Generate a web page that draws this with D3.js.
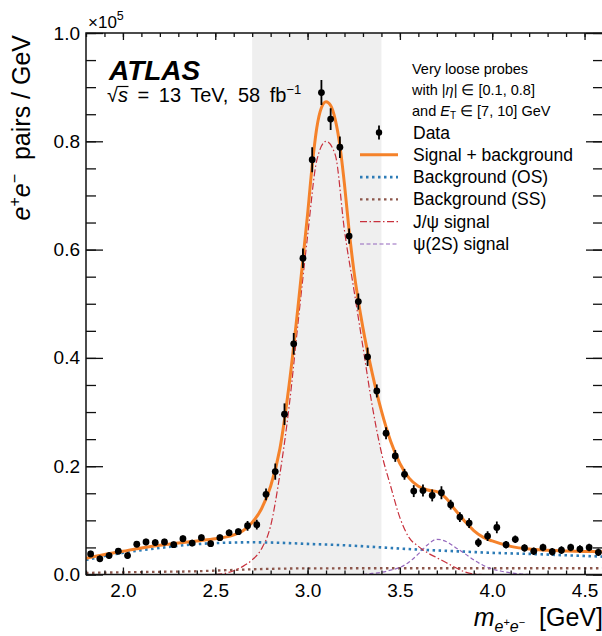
<!DOCTYPE html>
<html>
<head>
<meta charset="utf-8">
<title>ee mass fit, very loose probes</title>
<script src="https://cdn.jsdelivr.net/npm/d3@7"></script>
<style>
  body { margin: 0; background: #fff; }
  svg { font-family: "Liberation Sans", Arial, Helvetica, sans-serif; }
  text { white-space: pre; }
  .frame { fill: none; stroke: #111; stroke-width: 1.5px; }
  .axis path.domain { display: none; }
  .axis line { stroke: #111; stroke-width: 1.3px; }
  .axis text { font-size: 19px; fill: #000; font-family: "Liberation Sans", Arial, sans-serif; }
  .band { fill: #efefef; }
  .curve { fill: none; }
  .sb { stroke: #f5822a; stroke-width: 3px; }
  .os { stroke: #2c7bb6; stroke-width: 2.6px; stroke-dasharray: 2.5 3.5; }
  .ss { stroke: #8c564b; stroke-width: 2.3px; stroke-dasharray: 2.5 3.5; }
  .jpsi { stroke: #c8303c; stroke-width: 1.2px; stroke-dasharray: 7 2.5 1.5 2.5; }
  .psi2s { stroke: #9467bd; stroke-width: 1.2px; stroke-dasharray: 4 2.5; }
  .err { stroke: #000; stroke-width: 1.8px; }
  .dot { fill: #000; }
</style>
</head>
<body>
<script>
// data: bin centres (GeV) and e+e- pairs / GeV in units of 10^5
let dataMass = [1.825, 1.875, 1.925, 1.975, 2.025, 2.075, 2.125, 2.175, 2.225, 2.275,
    2.325, 2.375, 2.425, 2.475, 2.525, 2.575, 2.625, 2.675, 2.725, 2.775,
    2.825, 2.875, 2.925, 2.975, 3.025, 3.075, 3.125, 3.175, 3.225, 3.275,
    3.325, 3.375, 3.425, 3.475, 3.525, 3.575, 3.625, 3.675, 3.725, 3.775,
    3.825, 3.875, 3.925, 3.975, 4.025, 4.075, 4.125, 4.175, 4.225, 4.275,
    4.325, 4.375, 4.425, 4.475, 4.525, 4.575];
let dataCount = [0.038, 0.029, 0.035, 0.043, 0.035, 0.056, 0.060, 0.059, 0.060, 0.055,
    0.066, 0.058, 0.068, 0.057, 0.068, 0.077, 0.079, 0.090, 0.092, 0.148,
    0.190, 0.296, 0.426, 0.584, 0.766, 0.890, 0.841, 0.789, 0.625, 0.504,
    0.402, 0.339, 0.261, 0.219, 0.185, 0.154, 0.155, 0.146, 0.151, 0.129,
    0.106, 0.095, 0.059, 0.071, 0.087, 0.055, 0.065, 0.049, 0.043, 0.050,
    0.042, 0.045, 0.050, 0.047, 0.050, 0.041];
let dataErr = [0.006, 0.006, 0.006, 0.006, 0.006, 0.006, 0.006, 0.006, 0.006, 0.006,
    0.006, 0.006, 0.006, 0.006, 0.006, 0.006, 0.006, 0.009, 0.009, 0.011,
    0.015, 0.020, 0.020, 0.018, 0.023, 0.023, 0.020, 0.020, 0.014, 0.015,
    0.017, 0.012, 0.011, 0.011, 0.010, 0.011, 0.011, 0.011, 0.012, 0.009,
    0.009, 0.009, 0.008, 0.009, 0.011, 0.007, 0.007, 0.007, 0.007, 0.007,
    0.007, 0.007, 0.007, 0.007, 0.007, 0.007];

// fit curves
let sbMass = [1.80, 1.90, 2.00, 2.10, 2.20, 2.30, 2.40, 2.50, 2.60, 2.65, 2.70, 2.75, 2.80, 2.85,
    2.90, 2.95, 3.00, 3.025, 3.05, 3.075, 3.10, 3.125, 3.15, 3.175, 3.20, 3.225, 3.25,
    3.30, 3.35, 3.40, 3.45, 3.50, 3.55, 3.60, 3.65, 3.70, 3.75, 3.80, 3.85, 3.90, 3.95,
    4.00, 4.10, 4.20, 4.30, 4.40, 4.50, 4.60];
let sbCount = [0.030, 0.037, 0.043, 0.049, 0.054, 0.058, 0.062, 0.066, 0.073, 0.081, 0.096, 0.121, 0.163, 0.232,
    0.350, 0.500, 0.665, 0.755, 0.825, 0.862, 0.873, 0.866, 0.840, 0.792, 0.720, 0.635, 0.563,
    0.455, 0.372, 0.302, 0.246, 0.205, 0.178, 0.163, 0.156, 0.153, 0.141, 0.119, 0.099, 0.081, 0.069,
    0.062, 0.052, 0.047, 0.045, 0.0435, 0.0425, 0.042];

let osMass = [1.8, 1.9, 2.0, 2.1, 2.2, 2.3, 2.4, 2.5, 2.6, 2.7, 2.8, 2.9, 3.0, 3.2, 3.4, 3.6, 3.8, 4.0, 4.2, 4.4, 4.6];
let osCount = [0.027, 0.034, 0.040, 0.045, 0.049, 0.053, 0.056, 0.058, 0.059, 0.0595, 0.059, 0.058, 0.0565,
    0.054, 0.050, 0.046, 0.043, 0.040, 0.038, 0.0355, 0.033];

let ssMass = [1.8, 2.0, 2.2, 2.4, 2.6, 2.8, 3.0, 3.2, 3.6, 4.0, 4.6];
let ssCount = [0.003, 0.004, 0.005, 0.006, 0.0085, 0.0105, 0.0113, 0.0115, 0.0115, 0.0115, 0.0115];

let jpsiMass = [2.50, 2.55, 2.60, 2.65, 2.70, 2.75, 2.80, 2.85, 2.90, 2.95, 3.00, 3.05, 3.10, 3.15,
    3.20, 3.25, 3.30, 3.35, 3.40, 3.45, 3.50, 3.55, 3.60, 3.65, 3.70, 3.75, 3.80, 3.85, 3.90, 3.95];
let jpsiCount = [0.000, 0.002, 0.007, 0.015, 0.027, 0.047, 0.090, 0.185, 0.310, 0.470, 0.625, 0.765, 0.800, 0.775,
    0.635, 0.528, 0.420, 0.312, 0.225, 0.163, 0.105, 0.068, 0.052, 0.040, 0.031, 0.022, 0.013, 0.005, 0.001, 0.000];

let psiMass = [3.30, 3.35, 3.40, 3.45, 3.50, 3.55, 3.60, 3.65, 3.70, 3.75, 3.80, 3.85, 3.90, 3.95, 4.00, 4.05, 4.10, 4.15, 4.20];
let psiCount = [0.000, 0.002, 0.004, 0.008, 0.013, 0.023, 0.038, 0.055, 0.065, 0.061, 0.050, 0.039, 0.027, 0.017,
    0.010, 0.006, 0.003, 0.001, 0.000];

// shaded fit window (GeV)
let bandRange = [2.7, 3.4];

let xMajorTicks = [2.0, 2.5, 3.0, 3.5, 4.0, 4.5];
let yMajorTicks = [0.0, 0.2, 0.4, 0.6, 0.8, 1.0];

let legendLabels = ["Data", "Signal + background", "Background (OS)", "Background (SS)", "J/\u03c8 signal", "\u03c8(2S) signal"];
let legendClasses = ["data", "sb", "os", "ss", "jpsi", "psi2s"];

let width = 602;
let height = 636;
let plot = { left: 86, right: 603, top: 33, bottom: 574.5 };

let svg = d3.select("body").append("svg")
    .attr("width", width)
    .attr("height", height);

let x = d3.scaleLinear().domain([1.8, 4.6]).range([plot.left, plot.right]);
let y = d3.scaleLinear().domain([0, 1.0]).range([plot.bottom, plot.top]);

svg.append("clipPath").attr("id", "clip")
    .append("rect")
    .attr("x", plot.left).attr("y", plot.top)
    .attr("width", plot.right - plot.left).attr("height", plot.bottom - plot.top);

let inner = svg.append("g").attr("clip-path", "url(#clip)");

// grey band
inner.append("rect")
    .attr("class", "band")
    .attr("x", x(bandRange[0]))
    .attr("y", plot.top)
    .attr("width", x(bandRange[1]) - x(bandRange[0]))
    .attr("height", plot.bottom - plot.top);

// curves
let line = d3.line()
    .x(d => x(d[0]))
    .y(d => y(d[1]))
    .curve(d3.curveMonotoneX);

let curves = [
    [ssMass, ssCount, "ss"],
    [osMass, osCount, "os"],
    [psiMass, psiCount, "psi2s"],
    [jpsiMass, jpsiCount, "jpsi"],
    [sbMass, sbCount, "sb"]
];
curves.forEach(c => {
    inner.append("path")
        .attr("class", "curve " + c[2])
        .attr("d", line(d3.zip(c[0], c[1])));
});

// data points
let pts = d3.zip(dataMass, dataCount, dataErr);
inner.selectAll("line.err")
    .data(pts)
    .join("line")
    .attr("class", "err")
    .attr("x1", d => x(d[0])).attr("x2", d => x(d[0]))
    .attr("y1", d => y(d[1] - d[2])).attr("y2", d => y(d[1] + d[2]));
inner.selectAll("circle.dot")
    .data(pts)
    .join("circle")
    .attr("class", "dot")
    .attr("cx", d => x(d[0]))
    .attr("cy", d => y(d[1]))
    .attr("r", 3.4);

// axes, ticks point inwards
let xMinorTicks = d3.range(1.8, 4.65, 0.1);
let yMinorTicks = d3.range(0, 1.001, 0.05);
let fmt = d3.format(".1f");

function addAxis(gen, tx, ty) {
    svg.append("g").attr("class", "axis")
        .attr("transform", "translate(" + tx + "," + ty + ")")
        .call(gen);
}
addAxis(d3.axisBottom(x).tickValues(xMinorTicks).tickSize(-4).tickFormat(""), 0, plot.bottom);
addAxis(d3.axisBottom(x).tickValues(xMajorTicks).tickSize(-7).tickPadding(9).tickFormat(fmt), 0, plot.bottom);
addAxis(d3.axisTop(x).tickValues(xMinorTicks).tickSize(-4).tickFormat(""), 0, plot.top);
addAxis(d3.axisTop(x).tickValues(xMajorTicks).tickSize(-7).tickFormat(""), 0, plot.top);
addAxis(d3.axisLeft(y).tickValues(yMinorTicks).tickSize(-10).tickFormat(""), plot.left, 0);
addAxis(d3.axisLeft(y).tickValues(yMajorTicks).tickSize(-17).tickPadding(6).tickFormat(fmt), plot.left, 0);
addAxis(d3.axisRight(y).tickValues(yMinorTicks).tickSize(-10).tickFormat(""), plot.right, 0);
addAxis(d3.axisRight(y).tickValues(yMajorTicks).tickSize(-17).tickFormat(""), plot.right, 0);

svg.append("rect")
    .attr("class", "frame")
    .attr("x", plot.left).attr("y", plot.top)
    .attr("width", plot.right - plot.left).attr("height", plot.bottom - plot.top);

// x10^5 multiplier
let mult = svg.append("text").attr("x", plot.left + 2).attr("y", 28).attr("font-size", 17);
mult.append("tspan").text("\u00d710");
mult.append("tspan").attr("dy", -8).attr("font-size", 12.5).text("5");

// axis titles
let yt = svg.append("text")
    .attr("transform", "rotate(-90)")
    .attr("x", -plot.top - 2).attr("y", 30)
    .attr("text-anchor", "end")
    .attr("font-size", 25);
yt.append("tspan").attr("font-style", "italic").text("e");
yt.append("tspan").attr("dy", -10).attr("font-size", 16).text("+");
yt.append("tspan").attr("dy", 10).attr("font-style", "italic").text("e");
yt.append("tspan").attr("dy", -10).attr("font-size", 16).text("\u2212");
yt.append("tspan").attr("dy", 10).text("  pairs / GeV");

let xt = svg.append("text")
    .attr("x", 603).attr("y", 626)
    .attr("text-anchor", "end")
    .attr("font-size", 25);
xt.append("tspan").attr("font-style", "italic").text("m");
xt.append("tspan").attr("dy", 6).attr("font-size", 16).attr("font-style", "italic").text("e");
xt.append("tspan").attr("dy", -6).attr("font-size", 11).text("+");
xt.append("tspan").attr("dy", 6).attr("font-size", 16).attr("font-style", "italic").text("e");
xt.append("tspan").attr("dy", -6).attr("font-size", 11).text("\u2212");
xt.append("tspan").attr("dy", 0).text("  [GeV]");

// ATLAS label
svg.append("text")
    .attr("x", 109).attr("y", 80)
    .attr("font-size", 28).attr("font-weight", "bold").attr("font-style", "italic")
    .text("ATLAS");
let lumiY = 102;
let lumi = svg.append("text").attr("x", 107).attr("y", lumiY).attr("font-size", 20).attr("word-spacing", 4);
lumi.append("tspan").text("\u221a");
lumi.append("tspan").attr("font-style", "italic").text("s");
lumi.append("tspan").text(" = 13 TeV, 58 fb");
lumi.append("tspan").attr("dy", -8).attr("font-size", 13).text("\u22121");
// bar of the square root over s
let sExt = lumi.node().getExtentOfChar(1);
svg.append("line")
    .attr("x1", sExt.x - 0.5).attr("x2", sExt.x + sExt.width + 0.5)
    .attr("y1", lumiY - 15.5).attr("y2", lumiY - 15.5)
    .attr("stroke", "#000").attr("stroke-width", 1.2);

// legend header
let hx = 412;
let h1 = svg.append("text").attr("x", hx).attr("y", 73.5).attr("font-size", 14.5);
h1.text("Very loose probes");
let h2 = svg.append("text").attr("x", hx).attr("y", 94.5).attr("font-size", 14.5);
h2.append("tspan").text("with |");
h2.append("tspan").attr("font-style", "italic").text("\u03b7");
h2.append("tspan").text("| \u2208 [0.1, 0.8]");
let h3 = svg.append("text").attr("x", hx).attr("y", 115.5).attr("font-size", 14.5);
h3.append("tspan").text("and ");
h3.append("tspan").attr("font-style", "italic").text("E");
h3.append("tspan").attr("dy", 3.5).attr("font-size", 10).text("T");
h3.append("tspan").attr("dy", -3.5).text(" \u2208 [7, 10] GeV");

// legend entries
let legY0 = 138.5, legDy = 22.3;
let leg = svg.append("g");
legendLabels.forEach((lab, i) => {
    let yy = legY0 + i * legDy;
    let ym = yy - 6;
    if (legendClasses[i] == "data") {
        leg.append("line").attr("class", "err")
            .attr("x1", 379).attr("x2", 379).attr("y1", ym - 7).attr("y2", ym + 7);
        leg.append("circle").attr("class", "dot").attr("cx", 379).attr("cy", ym).attr("r", 3.2);
    } else {
        leg.append("line").attr("class", "curve " + legendClasses[i])
            .attr("x1", 360).attr("x2", 398).attr("y1", ym).attr("y2", ym);
    }
    leg.append("text").attr("x", 413).attr("y", yy).attr("font-size", 17.5).text(lab);
});
</script>
</body>
</html>
